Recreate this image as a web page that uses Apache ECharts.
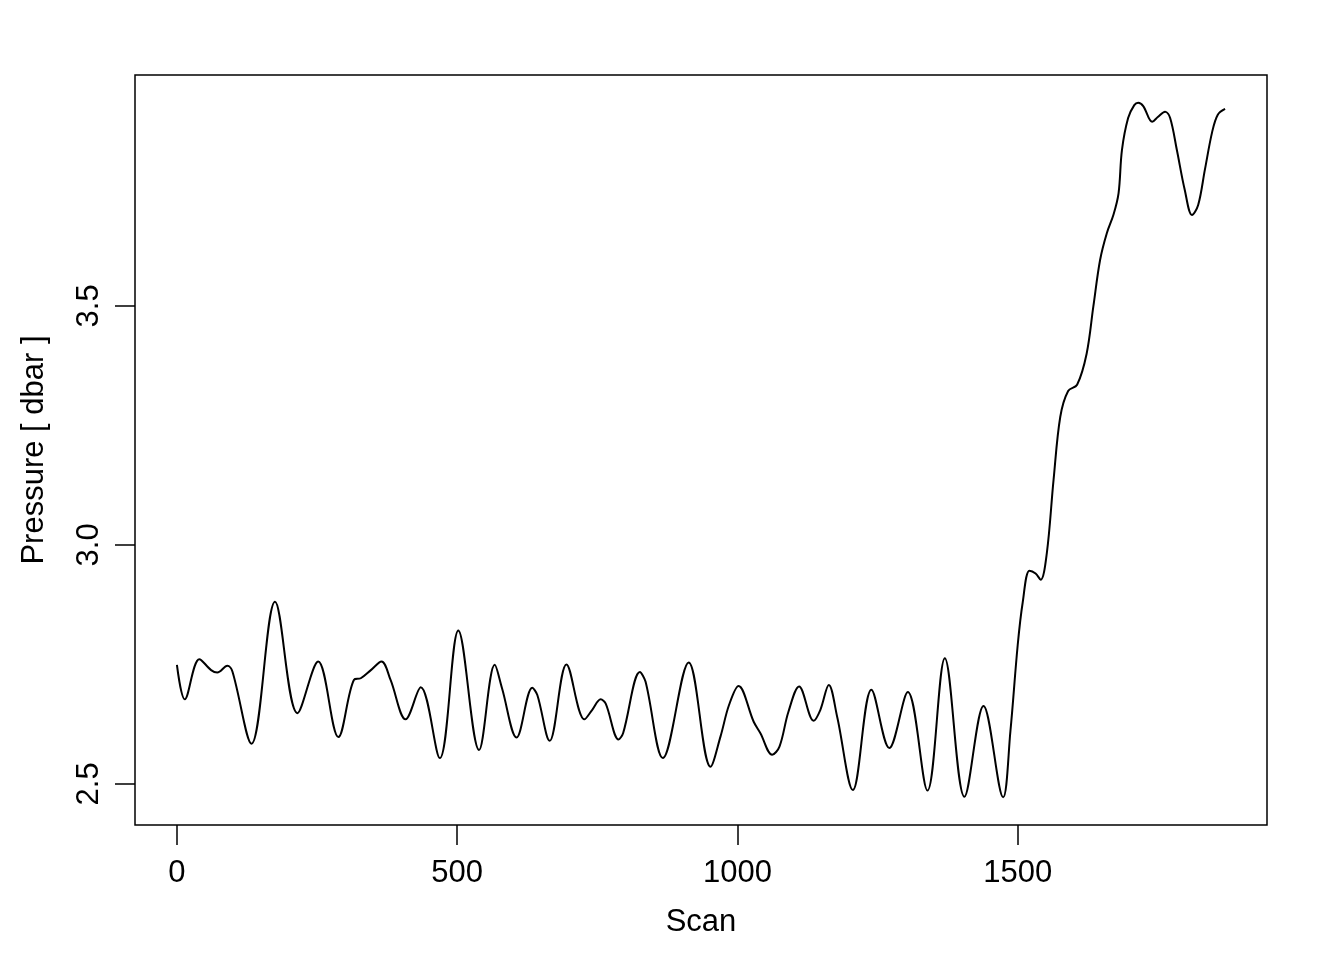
<!DOCTYPE html>
<html>
<head>
<meta charset="utf-8">
<title>Scan vs Pressure</title>
<script src="https://cdn.jsdelivr.net/npm/echarts@6/dist/echarts.min.js"></script>
<style>
  html, body { margin: 0; padding: 0; background: #fff; }
  #chart { width: 1344px; height: 960px; }
</style>
</head>
<body>
<div id="chart"></div>
<script>
// values
const scan = [0, 14, 40, 61, 72, 90, 99, 133, 175, 215, 252, 288, 316, 328, 346, 365, 381, 408, 435, 469,
  502, 539, 567, 580, 606, 634, 643, 665, 695, 727, 741, 756, 765, 788, 796, 826, 836, 867, 913, 952,
  970, 985, 1002, 1029, 1041, 1062, 1075, 1091, 1110, 1136, 1148, 1163, 1178, 1206, 1239, 1271, 1304, 1339, 1370, 1405,
  1439, 1474, 1487, 1500, 1509, 1521, 1532, 1541, 1552, 1564, 1576, 1590, 1606, 1623, 1635, 1647, 1659, 1671, 1680, 1686,
  1697, 1708, 1715, 1724, 1740, 1750, 1763, 1772, 1784, 1798, 1811, 1822, 1834, 1847, 1857, 1870];
const pressure = [2.749, 2.677, 2.761, 2.738, 2.733, 2.747, 2.735, 2.584, 2.881, 2.648, 2.756, 2.598, 2.718, 2.721, 2.738, 2.756, 2.718, 2.635, 2.702, 2.554,
  2.821, 2.571, 2.749, 2.700, 2.597, 2.701, 2.686, 2.590, 2.750, 2.635, 2.655, 2.677, 2.668, 2.593, 2.606, 2.734, 2.714, 2.554, 2.754, 2.536,
  2.600, 2.665, 2.705, 2.630, 2.606, 2.561, 2.578, 2.651, 2.704, 2.632, 2.655, 2.707, 2.640, 2.487, 2.697, 2.575, 2.692, 2.486, 2.763, 2.473,
  2.663, 2.472, 2.610, 2.790, 2.880, 2.946, 2.940, 2.927, 2.983, 3.136, 3.268, 3.322, 3.335, 3.400, 3.499, 3.596, 3.652, 3.691, 3.736, 3.826,
  3.893, 3.920, 3.925, 3.918, 3.885, 3.895, 3.906, 3.893, 3.826, 3.743, 3.690, 3.711, 3.785, 3.864, 3.900, 3.912];
const xTicks = [0, 500, 1000, 1500];
const yTicks = [2.5, 3.0, 3.5];

const font = 'Liberation Sans, Arial, Helvetica, sans-serif';
const fsize = 31;

var chart = echarts.init(document.getElementById('chart'), null, { renderer: 'canvas' });

var option = {
  backgroundColor: '#fff',
  animation: false,
  grid: {
    left: 135, top: 75, right: 77, bottom: 135,
    show: true, borderColor: '#000', borderWidth: 1.5, backgroundColor: 'transparent'
  },
  xAxis: {
    type: 'value',
    min: -74.8, max: 1944.8,
    name: 'Scan',
    nameLocation: 'middle',
    nameGap: 82,
    nameTextStyle: { color: '#000', fontSize: fsize, fontFamily: font },
    axisLine: { show: false, onZero: false },
    splitLine: { show: false },
    axisTick: { show: true, inside: false, length: 20, customValues: xTicks, lineStyle: { color: '#000', width: 1.5 } },
    axisLabel: {
      color: '#000', fontSize: fsize, fontFamily: font, margin: 33, customValues: xTicks,
      formatter: function (v) { return String(v) }
    }
  },
  yAxis: {
    type: 'value',
    min: 2.414, max: 3.983,
    name: 'Pressure [ dbar ]',
    nameLocation: 'middle',
    nameGap: 85,
    nameRotate: 90,
    nameTextStyle: { color: '#000', fontSize: fsize, fontFamily: font },
    axisLine: { show: false, onZero: false },
    splitLine: { show: false },
    axisTick: { show: true, inside: false, length: 20, customValues: yTicks, lineStyle: { color: '#000', width: 1.5 } },
    axisLabel: {
      color: '#000', fontSize: fsize, fontFamily: font, margin: 30, rotate: 90,
      customValues: yTicks,
      formatter: function (v) { return v.toFixed(1) }
    }
  },
  series: [{
    type: 'line',
    data: scan.map(function (s, i) { return [s, pressure[i]] }),
    showSymbol: false,
    smooth: 0.35,
    lineStyle: { color: '#000', width: 2 }
  }]
};

chart.setOption(option);
</script>
</body>
</html>
